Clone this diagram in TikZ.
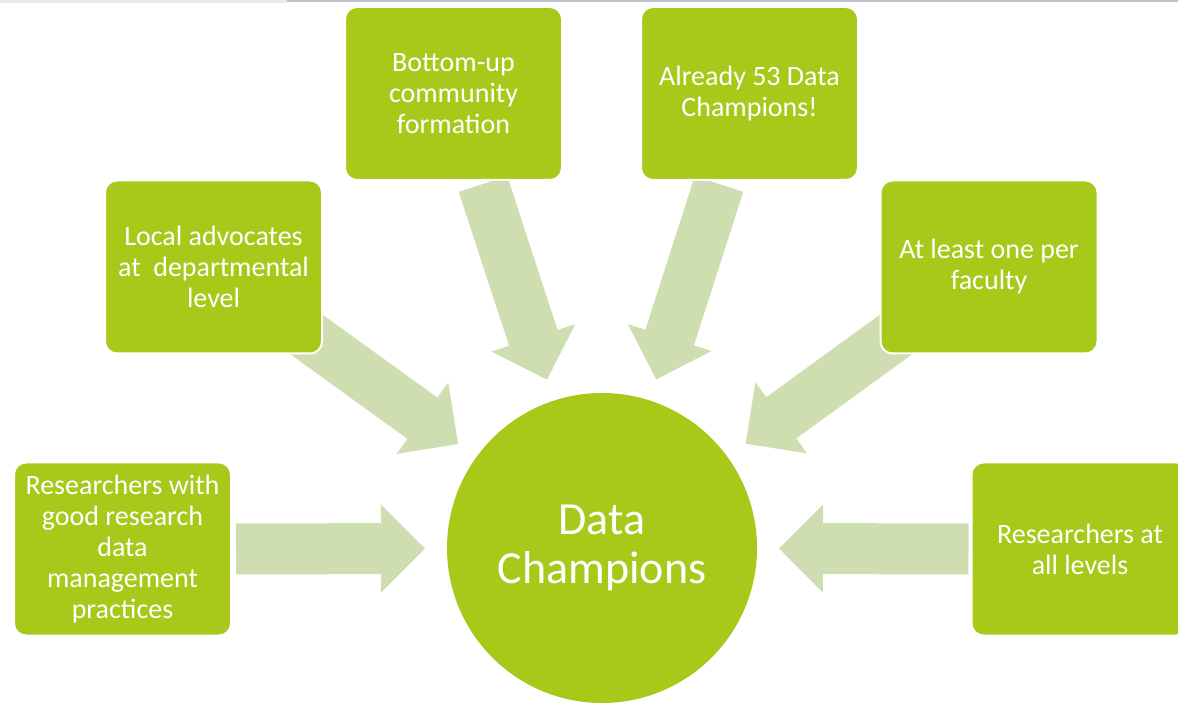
\documentclass[tikz,border=0pt]{standalone}
\usepackage{fontspec}
\setmainfont{Carlito}
\usetikzlibrary{calc,backgrounds}

\definecolor{champgreen}{RGB}{166,201,26}
\definecolor{flowgreen}{RGB}{206,222,176}
\definecolor{edgegray}{RGB}{190,193,206}

\tikzset{
  box/.style={rectangle, rounded corners=6pt, fill=champgreen, draw=white, line width=1pt,
    minimum width=108.5pt, minimum height=86.5pt, inner sep=2pt, text=white, align=center,
    font=\fontsize{14}{15.5}\selectfont},
  hub/.style={circle, fill=champgreen, minimum size=155pt, text=white, align=center,
    font=\fontsize{23}{24.5}\selectfont},
  flow/.style={fill=flowgreen},
}

% block arrow from a tail coordinate towards a hub node
\newcommand\flowarrow[2]{%
  \fill[flow] let \p1=(#1), \p2=($(#2)!88.5pt!(#1)$),
    \n1={atan2(\y2-\y1,\x2-\x1)}, \n2={veclen(\x2-\x1,\y2-\y1)} in
    [shift={(\p1)}, rotate=\n1]
    (0pt,-12.75pt) -- (\n2-22pt,-12.75pt) -- (\n2-22pt,-22pt) -- (\n2,0pt)
    -- (\n2-22pt,22pt) -- (\n2-22pt,12.75pt) -- (0pt,12.75pt) -- cycle;}

\begin{document}
\begin{tikzpicture}[x=0.5pt, y=-0.5pt]
  \useasboundingbox (0,0) rectangle (1178,705);
  \fill[black!8]  (0,0) rectangle (287,3);
  \fill[edgegray] (287,0) rectangle (1178,2);

  \node [hub] (champ)     at (602,548)    {Data\\Champions};

  \node [box] (bottomup)  at (453.5,93.5) {Bottom-up\\community\\formation};
  \node [box] (already)   at (749.5,93.5) {Already 53 Data\\Champions!};
  \node [box] (local)     at (213.5,267)  {Local advocates\\at~ departmental\\level};
  \node [box] (faculty)   at (989,267)    {At least one per\\faculty};
  \node [box] (goodrdm)   at (122.5,549)  {Researchers with\\good research\\data\\management\\practices};
  \node [box] (alllevels) at (1080,549)   {Researchers at\\all levels};

  % tails of the arrows
  \coordinate (t-bottomup)  at ($(bottomup.south)+(29.5,3)$);
  \coordinate (t-already)   at ($(already.south)+(-30.5,3)$);
  \coordinate (t-local)     at ($(local.south east)+(-22,-24)$);
  \coordinate (t-faculty)   at ($(faculty.south west)+(22,-24)$);
  \coordinate (t-goodrdm)   at ($(goodrdm.east)+(4,0)$);
  \coordinate (t-alllevels) at ($(alllevels.west)+(-2,0)$);

  \begin{scope}[on background layer]
    \foreach \t in {bottomup, already, local, faculty, goodrdm, alllevels}
      \flowarrow{t-\t}{champ};
  \end{scope}
\end{tikzpicture}
\end{document}
